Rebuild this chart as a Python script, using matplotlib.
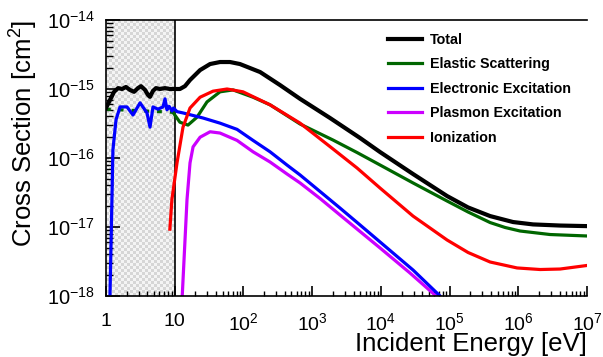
import numpy as np
import matplotlib
matplotlib.use("Agg")
import matplotlib.pyplot as plt
from matplotlib.ticker import LogLocator, NullFormatter
from matplotlib.lines import Line2D

plt.rcParams['font.family'] = ['Liberation Sans', 'DejaVu Sans']
plt.rcParams['mathtext.fontset'] = 'custom'
plt.rcParams['mathtext.rm'] = 'Liberation Sans'
plt.rcParams['mathtext.it'] = 'Liberation Sans:italic'
plt.rcParams['mathtext.bf'] = 'Liberation Sans:bold'

# ---------------- data (energy in eV, cross section in cm^2) ----------------
total_E = [1.0, 1.14, 1.31, 1.50, 1.71, 1.95, 2.23, 2.56, 2.92, 3.23, 3.70, 4.08, 4.37,
           4.83, 5.34, 6.11, 7.2, 8.5, 10.1, 11.9, 14.1, 16.7, 23.4, 32.7, 45.6, 63.8,
           89, 175, 341, 667, 1820, 4980, 9730, 2.94e4, 9.2e4, 1.86e5, 3.89e5, 8.4e5,
           1.64e6, 4.06e6, 1e7]
total_xs = [5.3e-16, 6.9e-16, 9.1e-16, 1.03e-15, 1.0e-15, 1.07e-15, 9.7e-16, 9.1e-16,
            1.03e-15, 1.10e-15, 9.7e-16, 8.2e-16, 7.7e-16, 9.4e-16, 1.03e-15, 1.0e-15,
            1.03e-15, 1.0e-15, 1.0e-15, 1.0e-15, 1.1e-15, 1.35e-15, 1.88e-15, 2.30e-15,
            2.46e-15, 2.46e-15, 2.30e-15, 1.76e-15, 1.14e-15, 7.2e-16, 3.8e-16, 1.95e-16,
            1.22e-16, 5.86e-17, 2.81e-17, 1.92e-17, 1.44e-17, 1.18e-17, 1.09e-17,
            1.05e-17, 1.03e-17]

elastic_E = [1.0, 9.4, 11.9, 15.6, 21.1, 29.5, 45.6, 70.6, 138, 244, 667, 2015, 4505,
             9730, 2.94e4, 9.2e4, 1.86e5, 3.89e5, 6.43e5, 1.06e6, 2.9e6, 1e7]
elastic_xs = [5.1e-16, 4.6e-16, 3.3e-16, 3.0e-16, 3.9e-16, 6.5e-16, 9.1e-16, 9.7e-16,
              7.6e-16, 5.9e-16, 3.11e-16, 1.82e-16, 1.20e-16, 7.92e-17, 4.35e-17,
              2.38e-17, 1.65e-17, 1.16e-17, 9.84e-18, 8.75e-18, 7.78e-18, 7.41e-18]

excit_E = [1.14, 1.22, 1.26, 1.40, 1.60, 2.02, 2.47, 3.13, 3.95, 4.37, 4.83, 5.71, 6.76,
           7.22, 7.72, 8.3, 9.14, 9.6, 10.8, 13.2, 25.8, 45.6, 80.7, 138, 244, 431, 667,
           1303, 2548, 4980, 9730, 2.94e4, 7.27e4, 8.0e4]
excit_xs = [9e-19, 2.5e-17, 1.3e-16, 3.6e-16, 5.5e-16, 5.5e-16, 4.2e-16, 6.3e-16, 4.5e-16,
            2.8e-16, 5.5e-16, 5.1e-16, 5.5e-16, 7.2e-16, 5.0e-16, 5.6e-16, 4.8e-16,
            5.3e-16, 4.7e-16, 4.5e-16, 3.8e-16, 3.2e-16, 2.6e-16, 1.8e-16, 1.23e-16,
            7.9e-17, 5.68e-17, 3.27e-17, 1.88e-17, 1.07e-17, 6.07e-18, 2.38e-18,
            1.0e-18, 8.6e-19]

plasmon_E = [12.8, 15.1, 16.7, 18.5, 23.4, 32.7, 45.6, 80.7, 138, 244, 431, 667, 1303,
             2548, 9730, 2.66e4, 6.58e4]
plasmon_xs = [9e-19, 2.5e-17, 8.5e-17, 1.45e-16, 2.0e-16, 2.4e-16, 2.3e-16, 1.8e-16,
              1.23e-16, 8.75e-17, 5.86e-17, 4.35e-17, 2.59e-17, 1.49e-17, 4.97e-18,
              2.15e-18, 9.7e-19]

ion_E = [8.5, 9.1, 10.8, 13.2, 16.7, 23.4, 36.1, 57.7, 98.6, 244, 667, 2015, 4505, 9730,
         2.94e4, 9.2e4, 1.86e5, 3.89e5, 9.6e5, 2.08e6, 4.06e6, 1e7]
ion_xs = [9.3e-18, 2.5e-17, 8.5e-17, 2.8e-16, 5.3e-16, 7.6e-16, 9.3e-16, 1.0e-15,
          9.1e-16, 5.9e-16, 3.2e-16, 1.35e-16, 7.16e-17, 3.67e-17, 1.44e-17, 6.48e-18,
          4.27e-18, 3.11e-18, 2.55e-18, 2.42e-18, 2.46e-18, 2.77e-18]

shade_range = [1.0, 10.0]
x_ticks = [1, 10, 1e2, 1e3, 1e4, 1e5, 1e6, 1e7]
x_ticklabels = ['1', '10', r'$10^{2}$', r'$10^{3}$', r'$10^{4}$', r'$10^{5}$',
                r'$10^{6}$', r'$10^{7}$']
y_ticks = [1e-18, 1e-17, 1e-16, 1e-15, 1e-14]
y_ticklabels = [r'$10^{-18}$', r'$10^{-17}$', r'$10^{-16}$', r'$10^{-15}$', r'$10^{-14}$']

# ---------------- figure ----------------
fig = plt.figure(figsize=(6.03, 3.57), dpi=100)
ax = fig.add_axes([106/603, 1-296/357, (587-106)/603, (296-20)/357])
ax.set_xscale('log')
ax.set_yscale('log')
ax.set_xlim(1, 1e7)
ax.set_ylim(1e-18, 1e-14)

# checkerboard shaded region 1-10 eV
xfrac = (np.log10(shade_range[1]) - np.log10(shade_range[0])) / 7.0
ins = ax.inset_axes([0, 0, xfrac, 1], zorder=0.5)
nr, nc = 92, 23
chk = (np.add.outer(np.arange(nr), np.arange(nc)) % 2).astype(float)
ins.imshow(chk, cmap=matplotlib.colors.ListedColormap(['#d6d6d6', '#f4f4f4']),
           aspect='auto', interpolation='nearest')
ins.set_axis_off()
ax.axvline(shade_range[1], color='black', lw=1.2, zorder=1)

lw_c = 2.3
ax.plot(elastic_E[:2], elastic_xs[:2], color='#006600', lw=lw_c, ls=(0, (1.5, 2.5)), zorder=2)
ax.plot(elastic_E[1:], elastic_xs[1:], color='#006600', lw=lw_c, zorder=2)
ax.plot(excit_E, excit_xs, color='#0000ff', lw=lw_c, zorder=2.2)
ax.plot(plasmon_E, plasmon_xs, color='#cc00ff', lw=lw_c, zorder=2.1)
ax.plot(ion_E, ion_xs, color='#ff0000', lw=lw_c, zorder=2.3)
ax.plot(total_E, total_xs, color='black', lw=3.0, zorder=2.4)

# legend
handles = [Line2D([], [], color='black', lw=3.0),
           Line2D([], [], color='#006600', lw=lw_c),
           Line2D([], [], color='#0000ff', lw=lw_c),
           Line2D([], [], color='#cc00ff', lw=lw_c),
           Line2D([], [], color='#ff0000', lw=lw_c)]
labels = ['Total', 'Elastic Scattering', 'Electronic Excitation', 'Plasmon Excitation',
          'Ionization']
leg = ax.legend(handles, labels, loc='upper left', bbox_to_anchor=(0.581, 0.965),
                frameon=False, prop={'weight': 'bold', 'size': 10.3},
                handlelength=2.35, handletextpad=0.55, labelspacing=0.74,
                borderaxespad=0.0, borderpad=0.2)

# axes styling
ax.spines['right'].set_visible(False)
for s in ['left', 'bottom', 'top']:
    ax.spines[s].set_linewidth(1.2)
ax.set_xticks(x_ticks)
ax.set_xticklabels(x_ticklabels)
ax.set_yticks(y_ticks)
ax.set_yticklabels(y_ticklabels)
ax.xaxis.set_minor_locator(LogLocator(base=10, subs=np.arange(2, 10), numticks=20))
ax.yaxis.set_minor_locator(LogLocator(base=10, subs=np.arange(2, 10), numticks=20))
ax.xaxis.set_minor_formatter(NullFormatter())
ax.yaxis.set_minor_formatter(NullFormatter())
ax.tick_params(axis='x', which='major', direction='in', length=7, width=1.2,
               labelsize=14, pad=12, top=False)
ax.tick_params(axis='x', which='minor', direction='in', length=3.5, width=1.0, top=False)
ax.tick_params(axis='y', which='major', direction='in', length=10, width=1.2,
               labelsize=14.5, pad=8, right=False)
ax.tick_params(axis='y', which='minor', direction='in', length=5, width=1.0, right=False)

ax.set_xlabel('Incident Energy [eV]', fontsize=18.5, loc='right', labelpad=-1.5)
ax.set_ylabel(r'Cross Section [cm$^{2}$]', fontsize=18.5, loc='top', labelpad=5)

fig.savefig('out.png', dpi=100)
